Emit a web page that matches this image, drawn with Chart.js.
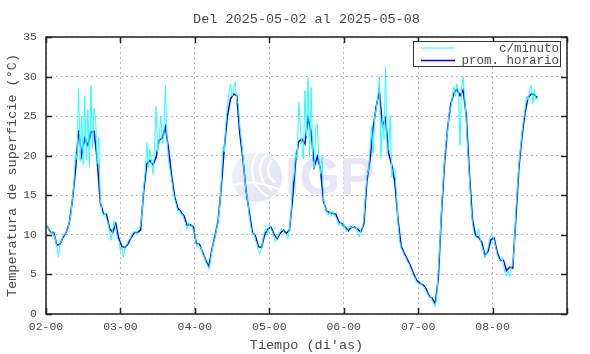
<!DOCTYPE html>
<html>
<head>
  <meta charset="utf-8">
  <title>Temperatura de superficie</title>
  <script src="https://cdn.jsdelivr.net/npm/chart.js"></script>
  <style>
    html, body { margin: 0; padding: 0; background: #fff; }
  </style>
</head>
<body>
  <canvas id="grafico" width="590" height="354"></canvas>

  <script>
    const titulo = 'Del 2025-05-02 al 2025-05-08';
    const diaInicial = 2;          // 2025-05-02
    const horasTotales = 168;      // eje x: 02-00 .. 09-00
    const etiquetas = ['c/minuto', 'prom. horario'];

    // c/minuto, muestreado cada 30 min (t = i * 0.5 h)
    const cMinuto = [
      // dia 02
      11.3, 11.0, 10.6, 10.2, 10.5, 10.0, 9.5, 8.5, 7.2, 8.9, 9.2, 9.9, 10.0, 10.4, 10.8, 11.6,
      12.5, 14.5, 16.5, 20.5, 19.5, 28.5, 19.3, 25.0, 19.0, 27.6, 19.4, 25.8, 18.6, 28.9, 21.0, 26.0,
      24.9, 19.0, 22.3, 14.5, 13.0, 12.4, 12.8, 12.0, 11.5, 10.5, 9.3, 10.8, 11.7, 10.8, 9.6, 9.2,
      // dia 03
      8.0, 8.4, 7.1, 8.6, 8.7, 9.2, 9.4, 9.9, 10.2, 10.5, 10.1, 10.4, 10.6, 11.2, 13.0, 16.0,
      18.0, 21.6, 18.5, 20.8, 19.3, 17.7, 21.0, 26.2, 20.5, 22.0, 25.0, 21.5, 22.6, 28.9, 22.4, 19.3,
      18.2, 17.0, 15.5, 14.5, 13.8, 13.0, 13.1, 12.5, 12.6, 12.0, 11.4, 10.8, 11.6, 11.0, 11.2, 10.6,
      // dia 04
      10.2, 8.6, 8.9, 8.5, 8.4, 7.6, 7.2, 6.6, 6.2, 5.7, 6.6, 8.0, 9.0, 9.6, 10.8, 11.6,
      13.5, 16.5, 21.0, 20.5, 24.0, 26.5, 27.9, 29.1, 27.5, 28.4, 29.3, 27.0, 26.5, 23.7, 22.0, 20.0,
      17.5, 15.5, 14.5, 12.5, 11.2, 10.0, 10.4, 9.4, 8.9, 8.0, 7.6, 8.3, 9.6, 10.4, 10.8, 10.2,
      // dia 05
      11.3, 10.8, 10.4, 9.8, 9.1, 9.6, 10.0, 10.4, 10.8, 10.5, 10.3, 10.0, 9.5, 10.8, 12.5, 16.7,
      17.5, 20.5, 19.5, 26.8, 23.6, 21.5, 19.6, 28.2, 22.5, 29.9, 19.8, 28.6, 19.6, 18.5, 23.6, 24.0,
      19.5, 17.7, 19.8, 14.5, 13.5, 13.1, 12.5, 13.0, 12.4, 13.0, 12.5, 12.2, 11.8, 11.2, 11.6, 11.0,
      // dia 06
      11.5, 10.8, 10.4, 10.7, 11.2, 10.8, 11.2, 10.8, 10.9, 10.5, 9.7, 10.6, 10.9, 12.0, 15.0, 17.5,
      18.1, 21.0, 23.8, 20.3, 25.0, 26.0, 27.4, 30.0, 19.8, 25.0, 22.0, 31.2, 20.3, 21.0, 25.1, 17.3,
      18.5, 18.1, 15.2, 11.5, 9.3, 8.3, 8.0, 7.4, 7.2, 6.6, 6.4, 5.8, 5.4, 4.8, 4.6, 4.0,
      // dia 07
      4.0, 3.7, 3.9, 3.5, 3.4, 2.9, 2.6, 2.1, 2.3, 1.7, 1.4, 0.9, 2.5, 5.5, 9.0, 13.0,
      16.5, 19.5, 21.8, 23.0, 25.5, 26.0, 27.3, 28.7, 27.5, 29.1, 28.0, 21.3, 28.5, 30.0, 27.4, 24.5,
      20.5, 17.5, 14.0, 11.5, 10.2, 9.7, 10.1, 10.8, 9.5, 8.6, 8.0, 7.1, 7.6, 8.3, 9.4, 10.0,
      // dia 08
      9.9, 9.3, 8.4, 7.5, 7.0, 6.6, 7.1, 6.4, 5.2, 4.8, 5.4, 4.7, 5.9, 6.2, 8.5, 13.0,
      16.0, 19.0, 21.0, 23.0, 24.5, 26.0, 27.5, 27.0, 28.3, 28.9, 26.6, 28.4, 27.0, 27.4
    ];

    // prom. horario: primer valor en 02-00, luego a la media hora (0.5, 1.5, 2.5 ...)
    const promHorario = [
      11.2,
      11.0, 10.3, 10.3, 8.7, 8.8, 9.7, 10.3, 11.5, 14.3, 18.1, 23.2, 20.0,
      22.2, 21.3, 23.0, 23.1, 19.5, 14.1, 12.7, 12.6, 10.8, 10.3, 11.4, 9.5,
      8.5, 8.4, 8.9, 9.7, 10.3, 10.3, 10.6, 15.5, 19.0, 19.4, 18.8, 19.8,
      22.0, 22.2, 23.6, 20.9, 17.5, 14.8, 13.4, 12.9, 12.4, 11.2, 11.3, 11.0,
      8.9, 8.8, 7.8, 6.8, 6.0, 8.2, 9.9, 11.8, 16.0, 21.0, 25.0, 27.2,
      27.8, 27.6, 22.8, 19.6, 15.6, 13.0, 10.4, 9.9, 8.5, 8.4, 10.0, 10.7,
      11.0, 10.1, 9.5, 10.2, 10.6, 10.2, 10.6, 14.5, 19.3, 21.8, 22.1, 21.5,
      24.8, 23.0, 18.6, 19.9, 18.3, 14.2, 13.0, 12.8, 12.7, 12.6, 11.6, 11.4,
      11.0, 10.5, 11.0, 11.0, 10.7, 10.4, 11.4, 16.9, 19.5, 23.5, 26.3, 28.1,
      23.8, 24.7, 20.3, 18.8, 16.6, 12.0, 8.6, 7.7, 6.9, 6.1, 5.1, 4.3,
      3.9, 3.7, 3.2, 2.3, 2.0, 1.3, 4.5, 12.5, 19.0, 23.5, 26.5, 27.9,
      28.4, 27.6, 28.3, 25.2, 18.0, 12.0, 9.9, 9.7, 9.1, 7.4, 7.9, 9.4,
      9.6, 7.8, 6.8, 6.8, 5.5, 5.9, 5.8, 12.0, 18.5, 22.5, 25.5, 27.4,
      27.8, 27.7, 27.3
    ];

    const mono = "'Liberation Mono', 'DejaVu Sans Mono', monospace";
    const gris = '#4a4a4a';

    const puntosMin = cMinuto.map((v, i) => ({ x: i * 0.5, y: v }));
    const puntosHora = promHorario.map((v, i) => ({ x: i === 0 ? 0 : i - 0.5, y: v }));

    // marca de agua IGP
    const marcaAgua = {
      id: 'marcaAgua',
      beforeDatasetsDraw(chart) {
        const ctx = chart.ctx;
        ctx.save();
        const g = ctx.createLinearGradient(232, 152, 280, 202);
        g.addColorStop(0, '#eff4fd');
        g.addColorStop(1, '#e0e0f4');
        ctx.fillStyle = g;
        ctx.beginPath();
        ctx.arc(257, 177, 25, 0, Math.PI * 2);
        ctx.fill();
        ctx.strokeStyle = '#ffffff';
        ctx.lineWidth = 2;
        [14, 22, 30].forEach(r => {
          ctx.beginPath();
          ctx.arc(282, 170, r, Math.PI * 0.65, Math.PI * 1.25);
          ctx.stroke();
        });
        ctx.beginPath();
        ctx.moveTo(233, 185); ctx.quadraticCurveTo(255, 178, 280, 190);
        ctx.stroke();
        ctx.fillStyle = '#e6e6f6';
        ctx.font = "bold 52px 'Liberation Sans', Arial, sans-serif";
        ctx.textBaseline = 'alphabetic';
        ctx.fillText('IGP', 285, 194);
        ctx.restore();
      }
    };

    // marco, marcas hacia adentro, titulo y leyenda al estilo gnuplot
    const marco = {
      id: 'marco',
      afterDraw(chart) {
        const { ctx, chartArea: a, scales } = chart;
        ctx.save();
        ctx.strokeStyle = '#222';
        ctx.lineWidth = 1.5;
        ctx.beginPath();
        for (let h = 0; h <= horasTotales; h += 24) {
          const px = Math.round(scales.x.getPixelForValue(h)) + 0.5;
          ctx.moveTo(px, a.bottom); ctx.lineTo(px, a.bottom - 6);
          ctx.moveTo(px, a.top); ctx.lineTo(px, a.top + 6);
        }
        for (let t = 0; t <= 35; t += 5) {
          const py = Math.round(scales.y.getPixelForValue(t)) + 0.5;
          ctx.moveTo(a.left, py); ctx.lineTo(a.left + 6, py);
          ctx.moveTo(a.right, py); ctx.lineTo(a.right - 6, py);
        }
        ctx.stroke();
        ctx.strokeRect(a.left, a.top, a.right - a.left, a.bottom - a.top);

        // titulo
        ctx.fillStyle = gris;
        ctx.font = '13.5px ' + mono;
        ctx.textAlign = 'center';
        ctx.textBaseline = 'middle';
        ctx.fillText(titulo, (a.left + a.right) / 2, 19);

        // leyenda
        const bx = 413.5, by = 41.5, bw = 147, bh = 25;
        ctx.fillStyle = '#fff';
        ctx.fillRect(bx, by, bw, bh);
        ctx.strokeStyle = '#333';
        ctx.lineWidth = 1;
        ctx.strokeRect(bx, by, bw, bh);
        ctx.font = '12.5px ' + mono;
        ctx.textAlign = 'right';
        chart.data.datasets.forEach((ds, i) => {
          const y = 48 + i * 12.5;
          ctx.strokeStyle = ds.borderColor;
          ctx.lineWidth = ds.borderWidth;
          ctx.beginPath();
          ctx.moveTo(421, y); ctx.lineTo(455, y);
          ctx.stroke();
          ctx.fillStyle = gris;
          ctx.fillText(ds.label, 559, y + 0.5);
        });
        ctx.restore();
      }
    };

    new Chart(document.getElementById('grafico'), {
      type: 'line',
      data: {
        datasets: [
          { label: etiquetas[0], data: puntosMin, borderColor: '#22ffff', borderWidth: 1, pointRadius: 0, tension: 0 },
          { label: etiquetas[1], data: puntosHora, borderColor: '#0000ff', borderWidth: 1.5, pointRadius: 0, tension: 0 }
        ]
      },
      options: {
        responsive: false,
        animation: false,
        devicePixelRatio: 1,
        layout: { padding: { top: 37, right: 23, left: 0, bottom: 0 } },
        plugins: {
          legend: { display: false },
          title: { display: false },
          tooltip: { enabled: false }
        },
        scales: {
          x: {
            type: 'linear',
            min: 0,
            max: horasTotales,
            afterFit: s => { s.height = 40; },
            ticks: {
              stepSize: 24,
              autoSkip: false,
              maxRotation: 0,
              padding: 6,
              color: gris,
              font: { family: mono, size: 11.5 },
              callback: v => v >= horasTotales ? '' : String(diaInicial + v / 24).padStart(2, '0') + '-00'
            },
            grid: { color: '#b8b8b8', lineWidth: 1, drawTicks: false },
            border: { display: false, dash: [2, 3] },
            title: {
              display: true,
              text: "Tiempo (di'as)",
              color: gris,
              font: { family: mono, size: 13.5 },
              padding: { top: 0, bottom: 0 }
            }
          },
          y: {
            min: 0,
            max: 35,
            afterFit: s => { s.width = 46; },
            ticks: {
              stepSize: 5,
              padding: 9,
              color: gris,
              font: { family: mono, size: 11.5 }
            },
            grid: { color: '#b8b8b8', lineWidth: 1, drawTicks: false },
            border: { display: false, dash: [2, 3] },
            title: {
              display: true,
              text: 'Temperatura de superficie (°C)',
              color: gris,
              font: { family: mono, size: 13.5 },
              padding: { top: 4, bottom: 0 }
            }
          }
        }
      },
      plugins: [marcaAgua, marco]
    });
  </script>
</body>
</html>
